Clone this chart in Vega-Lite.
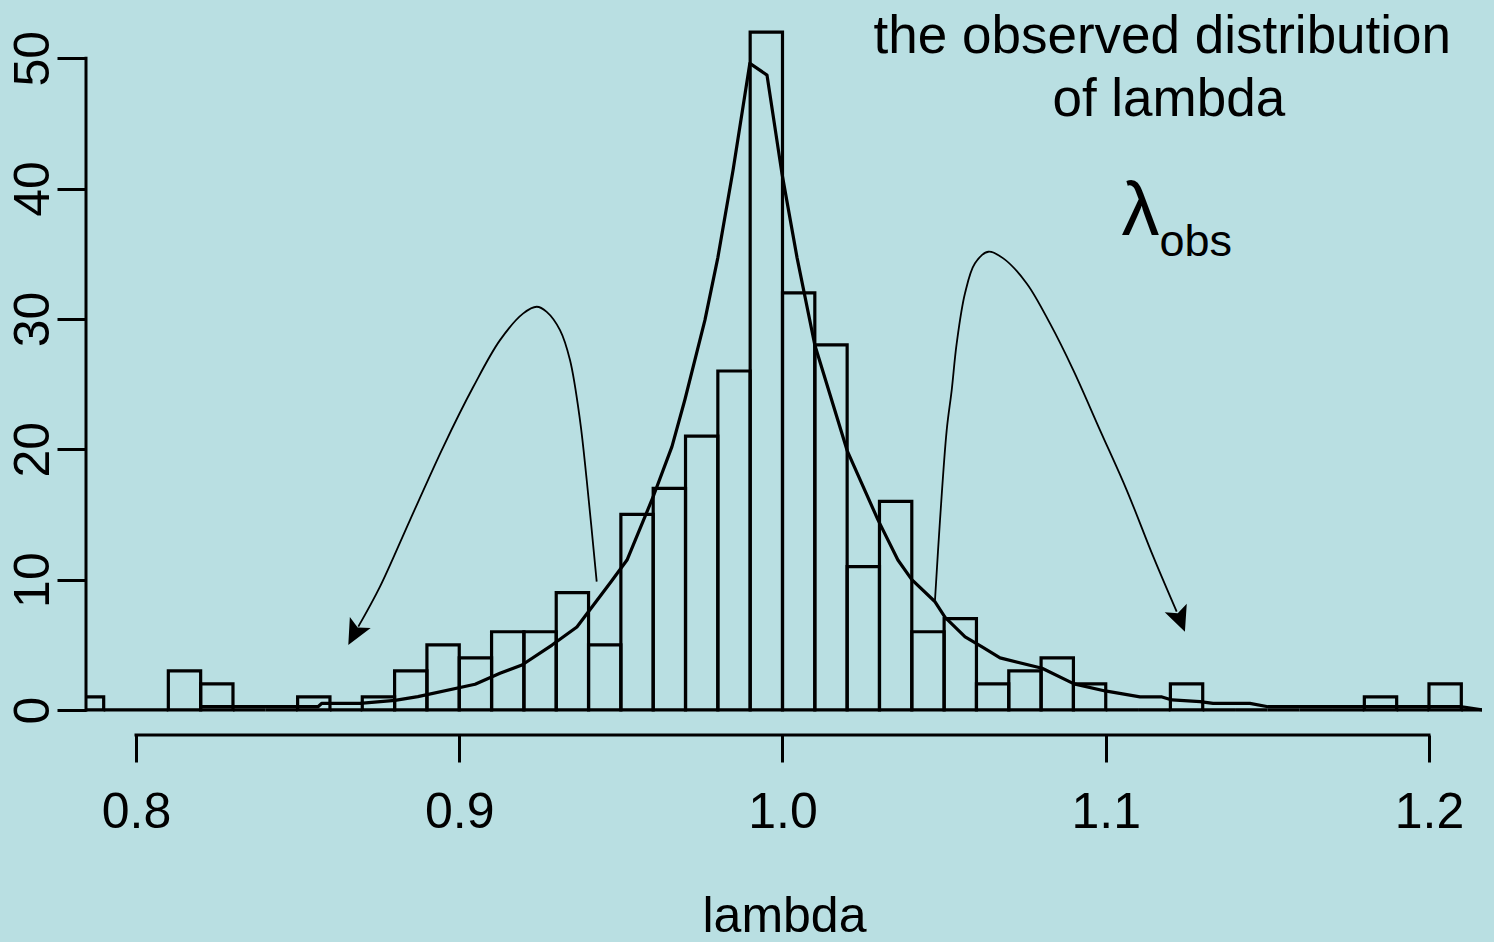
{
  "$schema": "https://vega.github.io/schema/vega-lite/v6.json",
  "width": 1396,
  "height": 729,
  "autosize": {"type": "none"},
  "padding": {"left": 86, "top": 6, "right": 12, "bottom": 207},
  "background": "#B9DFE2",
  "config": {"view": {"stroke": null}, "font": "Liberation Sans"},
  "datasets": {
    "hist": [
      {"lo": 0.78, "hi": 0.79, "n": 1}, {"lo": 0.79, "hi": 0.80, "n": 0}, {"lo": 0.80, "hi": 0.81, "n": 0},
      {"lo": 0.81, "hi": 0.82, "n": 3}, {"lo": 0.82, "hi": 0.83, "n": 2}, {"lo": 0.83, "hi": 0.84, "n": 0},
      {"lo": 0.84, "hi": 0.85, "n": 0}, {"lo": 0.85, "hi": 0.86, "n": 1}, {"lo": 0.86, "hi": 0.87, "n": 0},
      {"lo": 0.87, "hi": 0.88, "n": 1}, {"lo": 0.88, "hi": 0.89, "n": 3}, {"lo": 0.89, "hi": 0.90, "n": 5},
      {"lo": 0.90, "hi": 0.91, "n": 4}, {"lo": 0.91, "hi": 0.92, "n": 6}, {"lo": 0.92, "hi": 0.93, "n": 6},
      {"lo": 0.93, "hi": 0.94, "n": 9}, {"lo": 0.94, "hi": 0.95, "n": 5}, {"lo": 0.95, "hi": 0.96, "n": 15},
      {"lo": 0.96, "hi": 0.97, "n": 17}, {"lo": 0.97, "hi": 0.98, "n": 21}, {"lo": 0.98, "hi": 0.99, "n": 26},
      {"lo": 0.99, "hi": 1.00, "n": 52}, {"lo": 1.00, "hi": 1.01, "n": 32}, {"lo": 1.01, "hi": 1.02, "n": 28},
      {"lo": 1.02, "hi": 1.03, "n": 11}, {"lo": 1.03, "hi": 1.04, "n": 16}, {"lo": 1.04, "hi": 1.05, "n": 6},
      {"lo": 1.05, "hi": 1.06, "n": 7}, {"lo": 1.06, "hi": 1.07, "n": 2}, {"lo": 1.07, "hi": 1.08, "n": 3},
      {"lo": 1.08, "hi": 1.09, "n": 4}, {"lo": 1.09, "hi": 1.10, "n": 2}, {"lo": 1.10, "hi": 1.11, "n": 0},
      {"lo": 1.11, "hi": 1.12, "n": 0}, {"lo": 1.12, "hi": 1.13, "n": 2}, {"lo": 1.13, "hi": 1.14, "n": 0},
      {"lo": 1.14, "hi": 1.15, "n": 0}, {"lo": 1.15, "hi": 1.16, "n": 0}, {"lo": 1.16, "hi": 1.17, "n": 0},
      {"lo": 1.17, "hi": 1.18, "n": 0}, {"lo": 1.18, "hi": 1.19, "n": 1}, {"lo": 1.19, "hi": 1.20, "n": 0},
      {"lo": 1.20, "hi": 1.21, "n": 2}, {"lo": 1.21, "hi": 1.22, "n": 0}
    ],
    "dens": [
      {"x": 0.8195, "y": 0.25}, {"x": 0.8563, "y": 0.25}, {"x": 0.8575, "y": 0.51}, {"x": 0.8693, "y": 0.51},
      {"x": 0.8801, "y": 0.73}, {"x": 0.8872, "y": 1.02}, {"x": 0.9049, "y": 1.97}, {"x": 0.9126, "y": 2.81},
      {"x": 0.9194, "y": 3.45}, {"x": 0.9287, "y": 4.98}, {"x": 0.9364, "y": 6.37}, {"x": 0.9469, "y": 9.82},
      {"x": 0.9519, "y": 11.5}, {"x": 0.9599, "y": 16.3}, {"x": 0.9658, "y": 20.2}, {"x": 0.9698, "y": 23.8},
      {"x": 0.976, "y": 29.9}, {"x": 0.98, "y": 34.7}, {"x": 0.9847, "y": 41.4}, {"x": 0.9899, "y": 49.6},
      {"x": 0.9952, "y": 48.7}, {"x": 0.9998, "y": 41.2}, {"x": 1.0045, "y": 34.7}, {"x": 1.01, "y": 28.0},
      {"x": 1.02, "y": 19.9}, {"x": 1.0295, "y": 14.6}, {"x": 1.0357, "y": 11.5}, {"x": 1.04, "y": 10.0},
      {"x": 1.0472, "y": 8.3}, {"x": 1.0503, "y": 7.1}, {"x": 1.0565, "y": 5.6}, {"x": 1.062, "y": 4.8},
      {"x": 1.0673, "y": 4.0}, {"x": 1.0803, "y": 3.2}, {"x": 1.0902, "y": 2.0}, {"x": 1.0998, "y": 1.46},
      {"x": 1.1106, "y": 1.0}, {"x": 1.1174, "y": 1.0}, {"x": 1.1205, "y": 0.77}, {"x": 1.1292, "y": 0.64},
      {"x": 1.1332, "y": 0.51}, {"x": 1.1446, "y": 0.51}, {"x": 1.1502, "y": 0.25}, {"x": 1.2102, "y": 0.25},
      {"x": 1.2167, "y": 0.0}
    ],
    "arrows": [
      {"arrow": 1, "i": 1, "x": 0.94252, "y": 9.84}, {"arrow": 1, "i": 2, "x": 0.93943, "y": 17.64},
      {"arrow": 1, "i": 3, "x": 0.93735, "y": 22.24}, {"arrow": 1, "i": 4, "x": 0.93426, "y": 26.84},
      {"arrow": 1, "i": 5, "x": 0.93117, "y": 29.14}, {"arrow": 1, "i": 6, "x": 0.92705, "y": 30.54},
      {"arrow": 1, "i": 7, "x": 0.92396, "y": 30.93}, {"arrow": 1, "i": 8, "x": 0.91981, "y": 30.42},
      {"arrow": 1, "i": 9, "x": 0.91261, "y": 28.37}, {"arrow": 1, "i": 10, "x": 0.90435, "y": 24.79},
      {"arrow": 1, "i": 11, "x": 0.89507, "y": 20.19}, {"arrow": 1, "i": 12, "x": 0.88476, "y": 14.57},
      {"arrow": 1, "i": 13, "x": 0.87548, "y": 9.46}, {"arrow": 1, "i": 14, "x": 0.86877, "y": 6.39},
      {"arrow": 2, "i": 1, "x": 1.04718, "y": 8.44}, {"arrow": 2, "i": 2, "x": 1.04873, "y": 14.57},
      {"arrow": 2, "i": 3, "x": 1.0508, "y": 21.47}, {"arrow": 2, "i": 4, "x": 1.05235, "y": 24.54},
      {"arrow": 2, "i": 5, "x": 1.05389, "y": 28.12}, {"arrow": 2, "i": 6, "x": 1.05646, "y": 31.96},
      {"arrow": 2, "i": 7, "x": 1.05955, "y": 34.26}, {"arrow": 2, "i": 8, "x": 1.06367, "y": 35.15},
      {"arrow": 2, "i": 9, "x": 1.06831, "y": 34.64}, {"arrow": 2, "i": 10, "x": 1.07555, "y": 32.72},
      {"arrow": 2, "i": 11, "x": 1.08275, "y": 29.65}, {"arrow": 2, "i": 12, "x": 1.08996, "y": 26.07},
      {"arrow": 2, "i": 13, "x": 1.09822, "y": 21.47}, {"arrow": 2, "i": 14, "x": 1.10648, "y": 16.87},
      {"arrow": 2, "i": 15, "x": 1.11471, "y": 11.76}, {"arrow": 2, "i": 16, "x": 1.12195, "y": 7.54}
    ]
  },
  "layer": [
    {
      "data": {"name": "hist"},
      "mark": {"type": "rect", "fill": "transparent", "stroke": "black", "strokeWidth": 3.2, "clip": true},
      "encoding": {
        "x": {
          "field": "lo", "type": "quantitative",
          "scale": {"domain": [0.78453, 1.2164], "nice": false, "zero": false},
          "axis": {
            "values": [0.8, 0.9, 1.0, 1.1, 1.2], "format": ".1f", "domain": false, "grid": false,
            "tickSize": 27, "tickWidth": 3, "tickColor": "black",
            "labelFontSize": 50, "labelColor": "black", "labelPadding": 25, "labelFont": "Liberation Sans",
            "labelFlush": false, "labelOverlap": false,
            "title": "lambda", "titleFontSize": 50, "titleFontWeight": "normal", "titleColor": "black",
            "titleFont": "Liberation Sans", "titleY": 196, "titleBaseline": "alphabetic"
          }
        },
        "x2": {"field": "hi"},
        "y": {
          "field": "n", "type": "quantitative",
          "scale": {"domain": [-1.92, 54], "nice": false, "zero": false},
          "axis": {
            "values": [0, 10, 20, 30, 40, 50], "format": "d", "domain": false, "grid": false,
            "tickSize": 29, "tickWidth": 3, "tickColor": "black",
            "labelAngle": 270, "labelAlign": "center", "labelBaseline": "alphabetic",
            "labelFontSize": 50, "labelColor": "black", "labelPadding": 9, "labelFont": "Liberation Sans",
            "labelFlush": false, "labelOverlap": false, "title": null
          }
        },
        "y2": {"datum": 0}
      }
    },
    {
      "data": {"name": "dens"},
      "mark": {"type": "line", "color": "black", "strokeWidth": 3.2, "strokeJoin": "round", "clip": true},
      "encoding": {
        "x": {"field": "x", "type": "quantitative"},
        "y": {"field": "y", "type": "quantitative"}
      }
    },
    {
      "data": {"name": "arrows"},
      "mark": {"type": "line", "color": "black", "strokeWidth": 1.8, "interpolate": "catmull-rom"},
      "encoding": {
        "x": {"field": "x", "type": "quantitative"},
        "y": {"field": "y", "type": "quantitative"},
        "detail": {"field": "arrow", "type": "nominal"},
        "order": {"field": "i", "type": "quantitative"}
      }
    },
    {
      "data": {"values": [{}]},
      "mark": {"type": "point", "shape": "M0,-1 L0.74,0.6 L0,0.25 L-0.74,0.6 Z", "filled": true, "color": "black", "opacity": 1, "size": 1017, "angle": 208, "strokeWidth": 0},
      "encoding": {"x": {"datum": 0.86799}, "y": {"datum": 6.06}}
    },
    {
      "data": {"values": [{}]},
      "mark": {"type": "point", "shape": "M0,-1 L0.74,0.6 L0,0.25 L-0.74,0.6 Z", "filled": true, "color": "black", "opacity": 1, "size": 1017, "angle": 159, "strokeWidth": 0},
      "encoding": {"x": {"datum": 1.12272}, "y": {"datum": 7.14}}
    },
    {
      "data": {"values": [{}]},
      "mark": {"type": "rule", "color": "black", "strokeWidth": 3, "strokeCap": "square"},
      "encoding": {"x": {"datum": 0.8}, "x2": {"datum": 1.2}, "y": {"datum": -1.92}}
    },
    {
      "data": {"values": [{}]},
      "mark": {"type": "rule", "color": "black", "strokeWidth": 3, "strokeCap": "square"},
      "encoding": {"x": {"datum": 0.78453}, "y": {"datum": 0}, "y2": {"datum": 50}}
    },
    {
      "data": {"values": [{}]},
      "mark": {"type": "text", "text": "the observed distribution", "fontSize": 53, "align": "center", "baseline": "alphabetic", "color": "black", "font": "Liberation Sans"},
      "encoding": {"x": {"datum": 1.1175}, "y": {"datum": 50.4}}
    },
    {
      "data": {"values": [{}]},
      "mark": {"type": "text", "text": "of lambda", "fontSize": 53, "align": "center", "baseline": "alphabetic", "color": "black", "font": "Liberation Sans"},
      "encoding": {"x": {"datum": 1.1195}, "y": {"datum": 45.6}}
    },
    {
      "data": {"values": [{}]},
      "mark": {"type": "text", "text": "λ", "fontSize": 76, "align": "right", "baseline": "alphabetic", "color": "black", "font": "Liberation Sans"},
      "encoding": {"x": {"datum": 1.1166}, "y": {"datum": 36.4}}
    },
    {
      "data": {"values": [{}]},
      "mark": {"type": "text", "text": "obs", "fontSize": 45, "align": "left", "baseline": "alphabetic", "color": "black", "font": "Liberation Sans"},
      "encoding": {"x": {"datum": 1.1166}, "y": {"datum": 34.8}}
    }
  ]
}
